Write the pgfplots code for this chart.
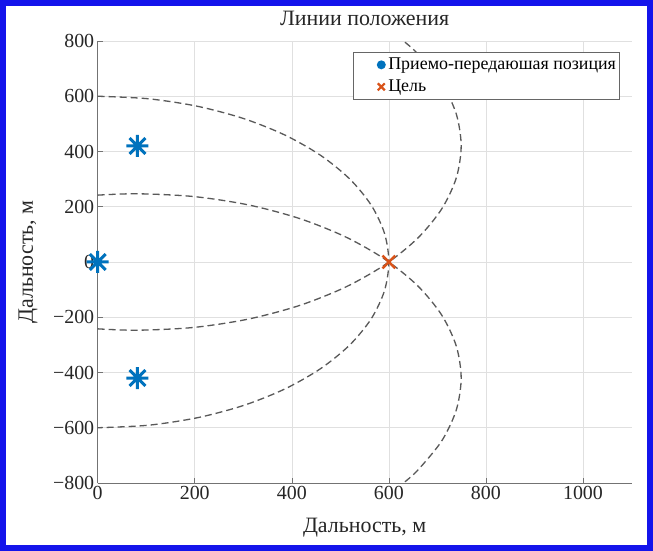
\documentclass[border=0pt]{standalone}
\usepackage{pgfplots}
\pgfplotsset{compat=1.18}
\usepackage{fontspec}
\setmainfont{Liberation Serif}
\definecolor{mblue}{RGB}{0,114,189}
\definecolor{morange}{RGB}{217,83,25}
\definecolor{frameblue}{RGB}{20,20,235}
\pgfdeclareplotmark{ast8}{%
 \pgfpathmoveto{\pgfqpoint{0pt}{\pgfplotmarksize}}\pgfpathlineto{\pgfqpoint{0pt}{-\pgfplotmarksize}}%
 \pgfpathmoveto{\pgfqpoint{\pgfplotmarksize}{0pt}}\pgfpathlineto{\pgfqpoint{-\pgfplotmarksize}{0pt}}%
 \pgfpathmoveto{\pgfqpoint{0.72\pgfplotmarksize}{0.72\pgfplotmarksize}}\pgfpathlineto{\pgfqpoint{-0.72\pgfplotmarksize}{-0.72\pgfplotmarksize}}%
 \pgfpathmoveto{\pgfqpoint{-0.72\pgfplotmarksize}{0.72\pgfplotmarksize}}\pgfpathlineto{\pgfqpoint{0.72\pgfplotmarksize}{-0.72\pgfplotmarksize}}%
 \pgfusepathqstroke}
\begin{document}
\begin{tikzpicture}[x=1bp,y=1bp]
\useasboundingbox (0,0) rectangle (653,551);
\fill[white] (0,0) rectangle (653,551);
\draw[frameblue, line width=6bp] (3,3) rectangle (650,548);
\begin{axis}[
 at={(97.7bp,68bp)}, anchor=south west,
 scale only axis, width=533.8bp, height=442bp,
 xmin=0, xmax=1100, ymin=-800, ymax=800,
 axis lines=left, axis line style={-, draw=black!55, line width=0.8bp},
 xtick={0,200,...,1000}, ytick={-800,-600,...,800},
 xticklabels={0,200,400,600,800,1000},
 yticklabels={−800,−600,−400,−200,0,200,400,600,800},
 tick align=inside, major tick length=5bp,
 tick style={black!55, line width=0.6bp},
 grid=major, major grid style={black!12, line width=0.6bp},
 ticklabel style={font=\fontsize{20}{24}\selectfont, text=black!85},
 xlabel={Дальность, м}, ylabel={Дальность, м},
 label style={font=\fontsize{22}{26}\selectfont, text=black!85},
 x label style={at={(axis description cs:0.5,-0.102)}, anchor=center},
 y label style={at={(axis description cs:-0.1306,0.5)}, anchor=center},
 title={Линии положения},
 title style={font=\fontsize{22}{26}\selectfont, text=black!85, at={(axis description cs:0.5,1)}, anchor=base, yshift=10bp},
 legend style={at={(axis description cs:0.978,0.975)}, anchor=north east,
   font=\fontsize{18}{21}\selectfont, draw=black!60, line width=0.6bp,
   inner sep=1.5bp, row sep=0bp, cells={anchor=west}},
 legend cell align=left,
 clip marker paths=false,
]
\addplot[only marks, mark=ast8, mark size=11bp, mblue, line width=3bp,
  legend image code/.code={\path[draw=none,fill=none] (0,-11bp) rectangle (32bp,11bp); \fill[mblue, draw=none] (27bp,0) circle (4.5bp);}]
  coordinates {(0,0) (82,420) (82,-420)};
\addlegendentry{Приемо-передаюшая позиция}
\addplot[only marks, mark=x, mark size=9bp, morange, line width=2.5bp,
  legend image code/.code={\path[draw=none,fill=none] (0,-11bp) rectangle (32bp,11bp); \draw[morange, line width=2.2bp] (23.5bp,-3.5bp)--(30.5bp,3.5bp) (23.5bp,3.5bp)--(30.5bp,-3.5bp);}]
  coordinates {(600,0)};
\addlegendentry{Цель}
\addplot[forget plot, smooth, no markers, color=black!65, line width=1.3bp, dash pattern=on 7bp off 4bp]
  coordinates {(0,600) (104.2,590.9) (205.2,563.8) (300,519.6) (385.7,459.6) (459.6,385.7) (519.6,300) (563.8,205.2) (590.9,104.2) (600,0) (590.9,-104.2) (563.8,-205.2) (519.6,-300) (459.6,-385.7) (385.7,-459.6) (300,-519.6) (205.2,-563.8) (104.2,-590.9) (0,-600)};
\addplot[forget plot, smooth, no markers, color=black!65, line width=1.3bp, dash pattern=on 7bp off 4bp]
  coordinates {(0,-242) (82,-247) (197.8,-236.9) (310.1,-206.8) (415.5,-157.6) (510.7,-90.9) (592.9,-8.7) (659.6,86.5) (708.8,191.9) (738.9,304.2) (749,420) (738.9,535.8) (708.8,648.1) (659.6,753.5) (630,800)};
\addplot[forget plot, smooth, no markers, color=black!65, line width=1.3bp, dash pattern=on 7bp off 4bp]
  coordinates {(0,242) (82,247) (197.8,236.9) (310.1,206.8) (415.5,157.6) (510.7,90.9) (592.9,8.7) (659.6,-86.5) (708.8,-191.9) (738.9,-304.2) (749,-420) (738.9,-535.8) (708.8,-648.1) (659.6,-753.5) (630,-800)};
\end{axis}
\end{tikzpicture}
\end{document}
